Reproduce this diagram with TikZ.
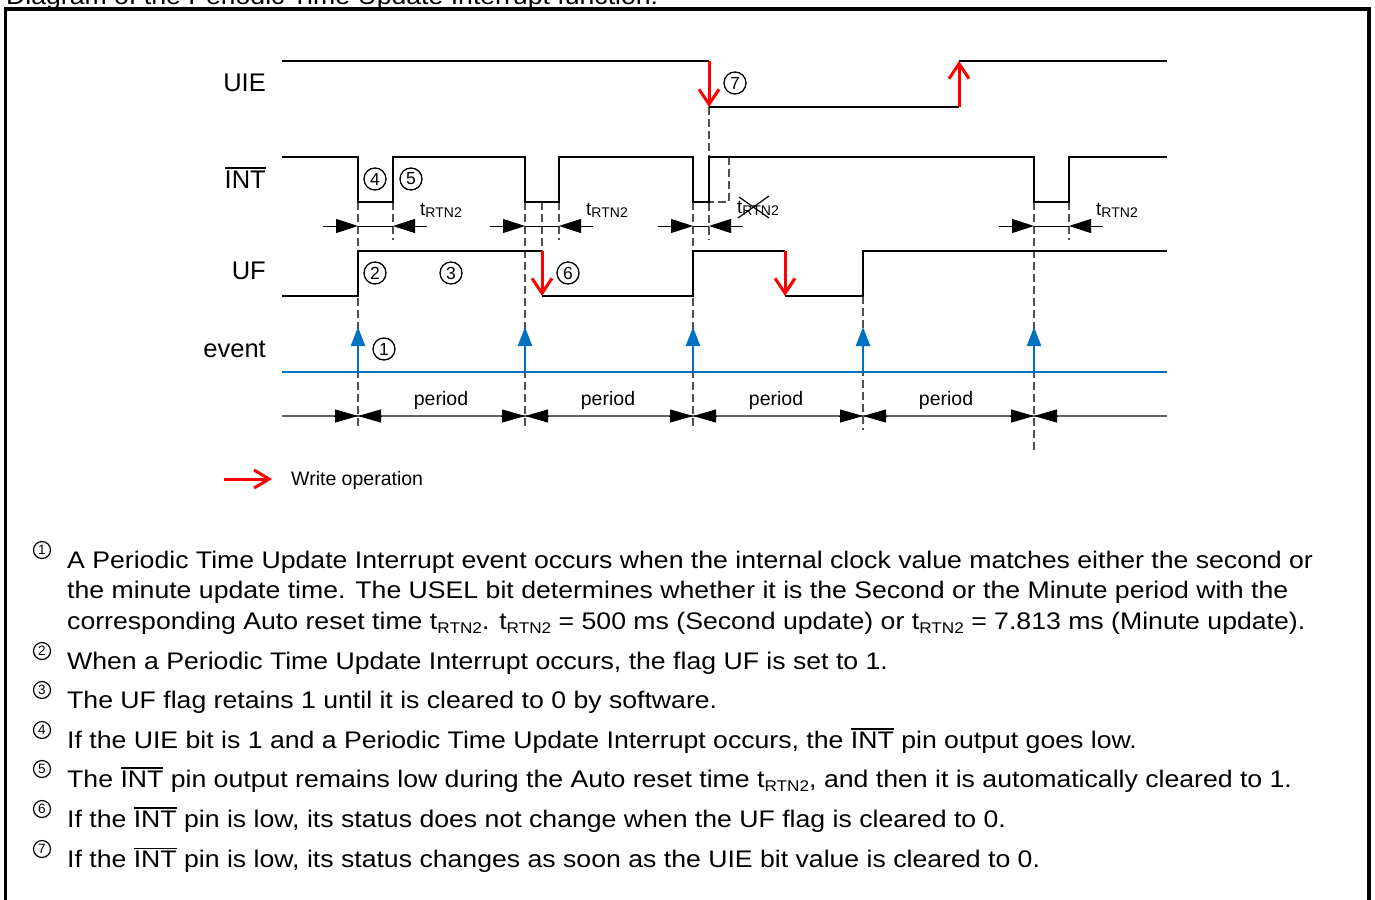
\documentclass[tikz,border=0pt]{standalone}
\usepackage{fontspec}
\setmainfont{Liberation Sans}
\newfontfamily\bodyfont[FakeStretch=1.11]{Liberation Sans}
\usetikzlibrary{arrows.meta}
\definecolor{evblue}{RGB}{0,112,192}
\definecolor{dashgray}{RGB}{80,80,80}
\definecolor{pergray}{RGB}{100,100,100}
\newcommand\ovl[1]{\vbox{\hrule height 1.2pt\kern 1.8pt\hbox{#1}}}
\newcommand\trb{t\raisebox{-4.5pt}{\fontsize{15.5}{15.5}\selectfont RTN2}}
\newcommand\trd{{\fontsize{19}{19}\selectfont t}\raisebox{-2.5pt}{\fontsize{14}{14}\selectfont RTN2}}
\tikzset{
  sig/.style={line width=2.4pt, black},
  wr/.style={red, line width=3pt, -{Straight Barb[length=15pt,width=20pt]}},
  ev/.style={evblue, line width=2.5pt},
  evarr/.style={evblue, line width=2.5pt, -{Triangle[length=19pt,width=14pt]}},
  dsh/.style={dashgray, line width=1.1pt, dash pattern=on 8pt off 4pt},
  dimtip/.style={black, line width=1pt, -{Triangle[length=22pt,width=14pt]}},
  dimline/.style={black, line width=1pt},
  pertip/.style={black, line width=1pt, -{Triangle[length=23pt,width=13pt]}},
  per/.style={pergray, line width=1.2pt},
  cn/.style={circle, draw, line width=1.3pt, inner sep=0pt, minimum size=22pt, font=\fontsize{17.5}{17.5}\selectfont},
  cb/.style={circle, draw, line width=1.2pt, inner sep=0pt, minimum size=17pt, font=\fontsize{13.5}{13.5}\selectfont},
  lbl/.style={font=\fontsize{25.5}{25.5}\selectfont, anchor=base east, inner sep=0pt},
  small/.style={font=\fontsize{19.5}{19.5}\selectfont, inner sep=0pt},
  trl/.style={anchor=base west, inner sep=0pt},
  body/.style={font=\bodyfont\fontsize{24}{24}\selectfont, anchor=base west, inner sep=0pt},
}
\begin{document}
\begin{tikzpicture}[x=1pt,y=-1pt]
\useasboundingbox (0,0) rectangle (1375,899);
% title (cut off at top)
\node[body] (title) at (6,4.5) {Diagram of the Periodic Time Update Interrupt function.};
% frame
\draw[line width=3.6pt] (5.5,910) -- (5.5,9) -- (1369,9) -- (1369,910);

% dashed guides
\foreach \x/\a/\b in {358/202/430, 525/202/430, 693/202/430, 863/296/430, 1034/202/452,
                      393/202/240, 559/202/240, 1069/202/240, 542/202/251, 709/107/240}
  \draw[dsh] (\x,\a) -- (\x,\b);
\draw[dsh] (729,157) -- (729,202) -- (709,202);

% labels
\node[lbl] (lUIE) at (266,92) {UIE};
\node[lbl] (lINT) at (266,188) {\ovl{INT}};
\node[lbl] (lUF) at (266,279) {UF};
\node[lbl] (lev) at (266,357) {event};

% UIE
\draw[sig] (282,61) -- (709,61);
\draw[sig] (709,107) -- (959,107);
\draw[sig] (959,61) -- (1167,61);
\draw[wr] (709,61) -- (709,107);
\draw[wr] (959,107) -- (959,61);

% INT
\draw[sig] (282,157) -- (358,157) -- (358,202) -- (393,202) -- (393,157) -- (525,157) -- (525,202) -- (559,202) -- (559,157)
  -- (693,157) -- (693,202) -- (709,202) -- (709,157) -- (1034,157) -- (1034,202) -- (1069,202) -- (1069,157) -- (1167,157);

% UF
\draw[sig] (282,296) -- (358,296) -- (358,251) -- (542,251);
\draw[sig] (542,296) -- (693,296) -- (693,251) -- (785,251);
\draw[sig] (785,296) -- (863,296) -- (863,251) -- (1167,251);
\draw[wr] (542,251) -- (542,296);
\draw[wr] (785,251) -- (785,296);

% event
\draw[ev] (282,372) -- (1167,372);
\foreach \x in {358,525,693,863,1034}
  \draw[evarr] (\x,372) -- (\x,327);

% t_RTN2 dimensions
\foreach \l/\r in {358/393, 525/559, 693/709, 1034/1069}{
  \draw[dimtip] (\l-35,226) -- (\l,226);
  \draw[dimtip] (\r+34,226) -- (\r,226);
  \draw[dimline] (\l,226) -- (\r,226);
}
\node[trl] (t1) at (420,215) {\trd};
\node[trl] (t2) at (586,215) {\trd};
\node[trl] (t3) at (737,213) {\trd};
\node[trl] (t4) at (1096,215) {\trd};
\draw[line width=1.2pt] (739,197) -- (769,218);
\draw[line width=1.2pt] (738,218) -- (769,196);

% period row
\draw[per] (282,416) -- (1167,416);
\foreach \x in {358,525,693,863,1034}{
  \draw[pertip] (\x-24,416) -- (\x,416);
  \draw[pertip] (\x+24,416) -- (\x,416);
}
\node[small] (p1) at (441,400) {period};
\node[small] (p2) at (608,400) {period};
\node[small] (p3) at (776,400) {period};
\node[small] (p4) at (946,400) {period};

% circled numbers in diagram
\node[cn] (c1) at (384,349) {1};
\node[cn] (c2) at (375,273) {2};
\node[cn] (c3) at (451,273) {3};
\node[cn] (c4) at (375,179) {4};
\node[cn] (c5) at (411,179) {5};
\node[cn] (c6) at (568,273) {6};
\node[cn] (c7) at (735,83) {7};

% legend
\draw[red, line width=3pt, -{Straight Barb[length=15pt,width=18pt]}] (224,479) -- (272,479);
\node[small, anchor=base west] (leg) at (291,485) {Write operation};

% notes
\node[cb] (b1) at (42,550) {1};
\node[body] (n1a) at (67,568) {A Periodic Time Update Interrupt event occurs when the internal clock value matches either the second or};
\node[body] (n1b) at (67,598.5) {the minute update time. The USEL bit determines whether it is the Second or the Minute period with the};
\node[body] (n1c) at (67,629) {corresponding Auto reset time \trb. \trb{} = 500 ms (Second update) or \trb{} = 7.813 ms (Minute update).};
\node[cb] (b2) at (42,651) {2};
\node[body] (n2) at (67,669) {When a Periodic Time Update Interrupt occurs, the flag UF is set to 1.};
\node[cb] (b3) at (42,690) {3};
\node[body] (n3) at (67,708) {The UF flag retains 1 until it is cleared to 0 by software.};
\node[cb] (b4) at (42,730) {4};
\node[body] (n4) at (67,748) {If the UIE bit is 1 and a Periodic Time Update Interrupt occurs, the \ovl{INT} pin output goes low.};
\node[cb] (b5) at (42,769) {5};
\node[body] (n5) at (67,787) {The \ovl{INT} pin output remains low during the Auto reset time \trb, and then it is automatically cleared to 1.};
\node[cb] (b6) at (42,809) {6};
\node[body] (n6) at (67,827) {If the \ovl{INT} pin is low, its status does not change when the UF flag is cleared to 0.};
\node[cb] (b7) at (42,849) {7};
\node[body] (n7) at (67,867) {If the \ovl{INT} pin is low, its status changes as soon as the UIE bit value is cleared to 0.};
\end{tikzpicture}
\end{document}
